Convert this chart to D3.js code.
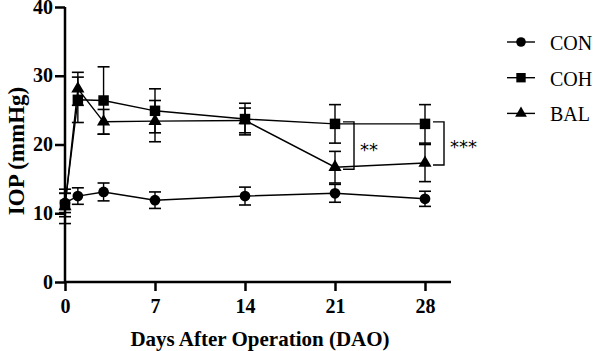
<!DOCTYPE html>
<html lang="en">
<head>
<meta charset="UTF-8">
<title>IOP</title>
<script src="https://cdn.jsdelivr.net/npm/d3@7"></script>
<style>
  body { margin: 0; background: #fff; }
  svg text { font-family: 'Liberation Serif', 'Times New Roman', Times, serif !important; fill: #000; }
  svg text.star { font-family: 'DejaVu Sans', sans-serif !important; }
</style>
</head>
<body>
<script>
// data
var days = [0, 1, 3, 7, 14, 21, 28];
var conMean = [11.5, 12.5, 13.1, 11.9, 12.5, 12.9, 12.1];
var conErr  = [1.4, 1.2, 1.3, 1.2, 1.3, 1.3, 1.1];
var cohMean = [11.2, 26.5, 26.4, 24.9, 23.7, 23.0, 23.0];
var cohErr  = [1.7, 3.3, 4.9, 3.2, 2.3, 2.8, 2.8];
var balMean = [11.0, 28.1, 23.3, 23.4, 23.5, 16.7, 17.3];
var balErr  = [2.5, 2.4, 1.8, 3.0, 1.8, 2.3, 2.7];
var xTicks = [0, 7, 14, 21, 28];
var yTicks = [0, 10, 20, 30, 40];
var groups = ["CON", "COH", "BAL"];

var w = 597, h = 351;
var svg = d3.select("body").append("svg").attr("width", w).attr("height", h);

var x = d3.scaleLinear().domain([0, 28]).range([65, 425]);
var y = d3.scaleLinear().domain([0, 40]).range([282, 7]);

var series = [
  {name: "CON", mean: conMean, err: conErr, shape: d3.symbolCircle, size: 90},
  {name: "COH", mean: cohMean, err: cohErr, shape: d3.symbolSquare, size: 110},
  {name: "BAL", mean: balMean, err: balErr, shape: d3.symbolTriangle, size: 75}
];

// axes
var yAxis = svg.append("g").attr("transform", "translate(65,0)")
  .call(d3.axisLeft(y).tickValues(yTicks).tickSize(10).tickPadding(2));
var xAxis = svg.append("g").attr("transform", "translate(0,282)")
  .call(d3.axisBottom(x).tickValues(xTicks).tickSize(9).tickPadding(8));
xAxis.select(".domain").attr("d", "M65,0H451");
yAxis.select(".domain").attr("d", "M0,282V7");
[xAxis, yAxis].forEach(function(a) {
  a.attr("font-family", null);
  a.selectAll(".domain, line").attr("stroke", "#000").attr("stroke-width", 2.5);
  a.selectAll("text").attr("font-size", 20).attr("font-weight", "bold").attr("fill", "#000");
});
yAxis.selectAll(".tick text").attr("dy", "0.3em");

svg.append("text").attr("x", 260).attr("y", 346).attr("text-anchor", "middle")
  .attr("font-size", 21).attr("font-weight", "bold")
  .text("Days After Operation (DAO)");
svg.append("text").attr("transform", "translate(24,151) rotate(-90)").attr("text-anchor", "middle")
  .attr("font-size", 23).attr("font-weight", "bold")
  .text("IOP (mmHg)");

var line = d3.line().x(function(d, i) { return x(days[i]); }).y(function(d) { return y(d); });

series.forEach(function(s) {
  var g = svg.append("g");
  g.append("path").attr("d", line(s.mean)).attr("fill", "none")
    .attr("stroke", "#000").attr("stroke-width", 1.4);
  s.mean.forEach(function(m, i) {
    var cx = x(days[i]), top = y(m + s.err[i]), bot = y(m - s.err[i]);
    g.append("line").attr("x1", cx).attr("x2", cx).attr("y1", top).attr("y2", bot)
      .attr("stroke", "#000").attr("stroke-width", 1.4);
    [top, bot].forEach(function(yy) {
      g.append("line").attr("x1", cx - 6).attr("x2", cx + 6).attr("y1", yy).attr("y2", yy)
        .attr("stroke", "#000").attr("stroke-width", 1.6);
    });
  });
  g.selectAll("path.pt").data(s.mean).enter().append("path").attr("class", "pt")
    .attr("transform", function(d, i) { return "translate(" + x(days[i]) + "," + y(d) + ")"; })
    .attr("d", d3.symbol().type(s.shape).size(s.size)).attr("fill", "#000");
});

// significance brackets between COH and BAL
var sig = [{day: 21, label: "**"}, {day: 28, label: "***"}];
sig.forEach(function(b) {
  var i = days.indexOf(b.day);
  var x0 = x(b.day) + 8, x1 = x(b.day) + 19;
  var y0 = y(cohMean[i]) - 2, y1 = y(balMean[i]) + 2;
  svg.append("path").attr("d", "M" + x0 + "," + y0 + "H" + x1 + "V" + y1 + "H" + x0)
    .attr("fill", "none").attr("stroke", "#000").attr("stroke-width", 1.4);
  svg.append("text").attr("class", "star").attr("x", x1 + 6).attr("y", (y0 + y1) / 2 + 10)
    .attr("font-size", 18).text(b.label);
});

// legend
var leg = svg.append("g");
series.forEach(function(s, i) {
  var ly = 42 + i * 35.7;
  leg.append("line").attr("x1", 507).attr("x2", 535).attr("y1", ly).attr("y2", ly)
    .attr("stroke", "#000").attr("stroke-width", 1.4);
  leg.append("path").attr("transform", "translate(521," + ly + ")")
    .attr("d", d3.symbol().type(s.shape).size(s.size * 0.8)).attr("fill", "#000");
  leg.append("text").attr("x", 550).attr("y", ly + 1).attr("dy", "0.35em")
    .attr("font-size", 20).text(groups[i]);
});
</script>
</body>
</html>
